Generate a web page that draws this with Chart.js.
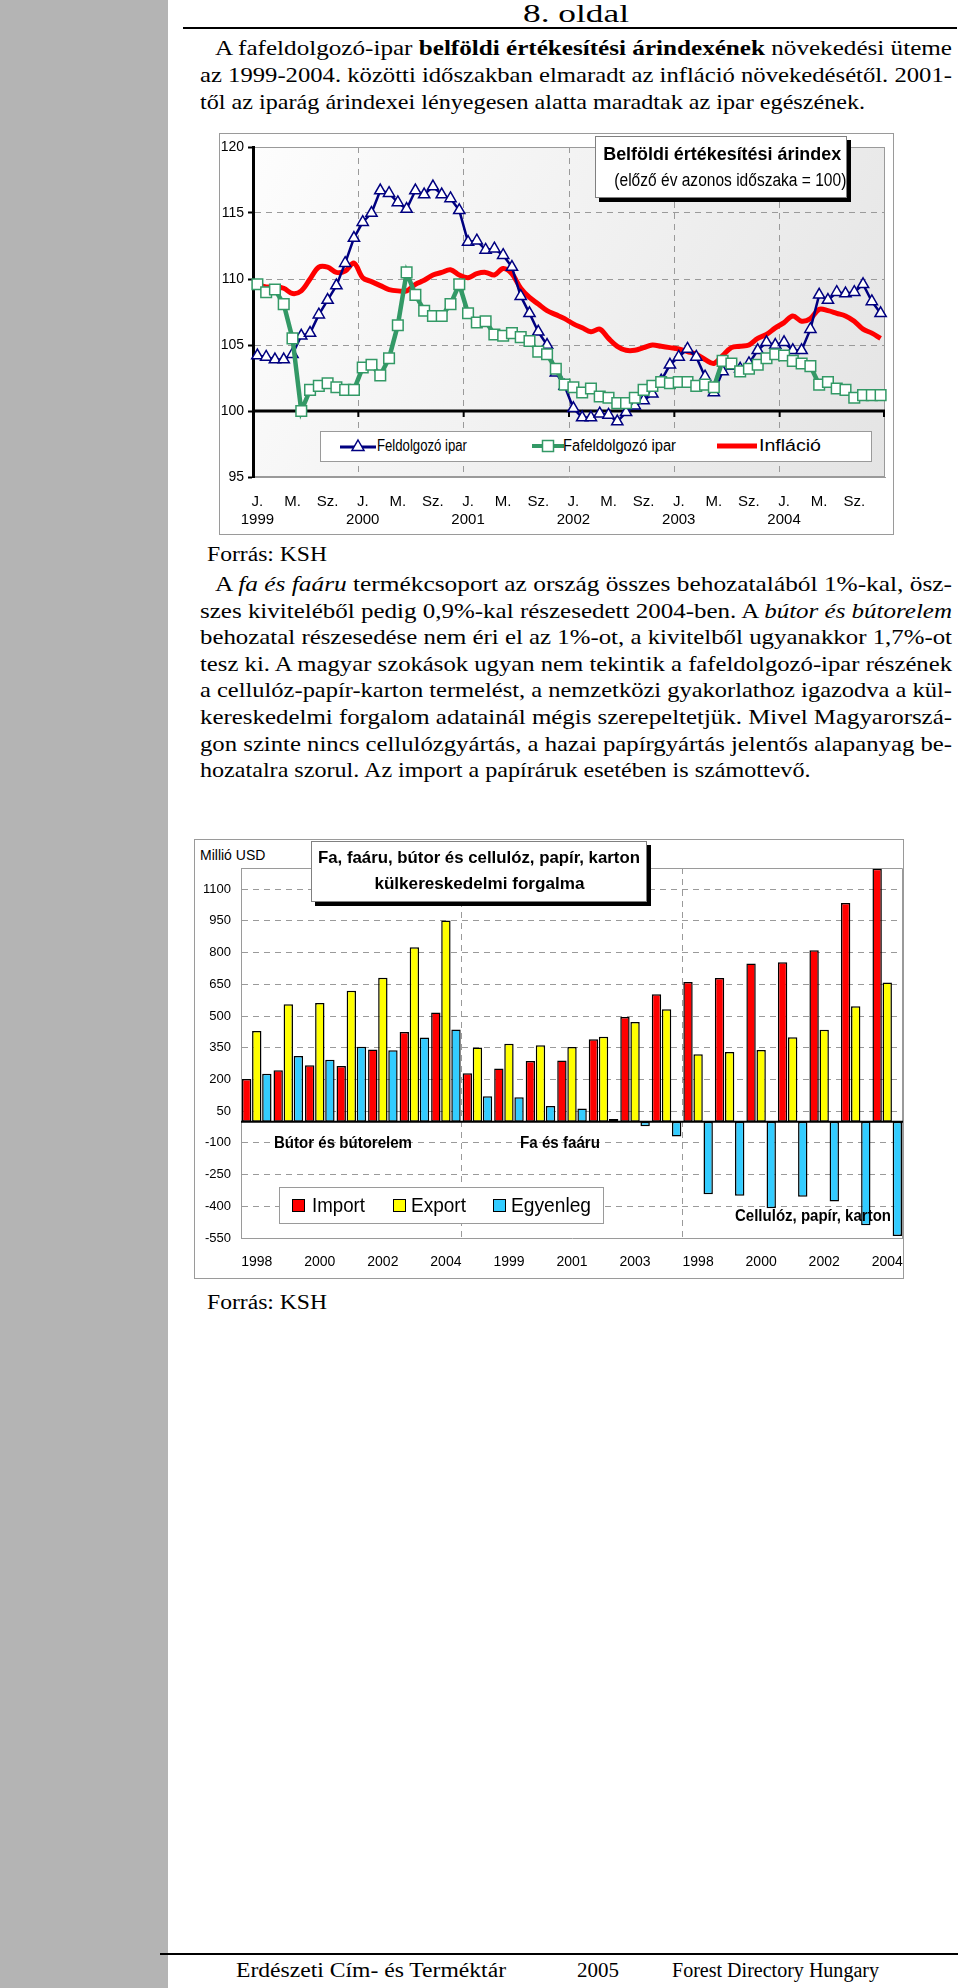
<!DOCTYPE html>
<html lang="hu">
<head>
<meta charset="utf-8">
<script src="https://cdn.jsdelivr.net/npm/chart.js@4.4.1/dist/chart.umd.min.js"></script>
<style>
  body { margin: 0; width: 960px; height: 1988px; position: relative; overflow: hidden; background: #fff; color: #000;
         font-family: "Liberation Serif", "Times New Roman", serif; }
  #sav { position: absolute; left: 0; top: 0; width: 168px; height: 1988px; background: #b4b4b4; }
  .vonal { position: absolute; height: 2px; background: #000; }
  .bekezdes { position: absolute; left: 200px; width: 752px; font-size: 22px; }
  .sor { white-space: nowrap; }
  .sor span { display: inline-block; transform-origin: left center; }
  .fit { display: inline-block; white-space: nowrap; transform-origin: left center; }
  .kozep { transform-origin: center center; }
  .abs { position: absolute; white-space: nowrap; }
  .keret { position: absolute; box-sizing: border-box; border: 1px solid #9a9a9a; background: #fff; }
  .keret canvas { position: absolute; left: -1px; top: -1px; }
  .sans { font-family: "Liberation Sans", Arial, sans-serif; }
  .cimdoboz { position: absolute; box-sizing: border-box; background: #fff; border: 1px solid #808080;
              box-shadow: 4px 4px 0 #000; text-align: center; font-family: "Liberation Sans", Arial, sans-serif; }
  .felirat { position: absolute; white-space: nowrap; font-weight: bold; font-size: 16px;
             font-family: "Liberation Sans", Arial, sans-serif; }
</style>
</head>
<body>
<div id="sav"></div>
<div class="abs" style="left:476px; width:200px; top:0px; text-align:center; font-size:26px; line-height:28px;">
  <span class="fit kozep" data-w="106">8. oldal</span>
</div>
<div class="vonal" style="left:183px; width:774px; top:27px;"></div>

<div class="bekezdes" style="top:34px; line-height:27px;">
  <div class="sor" data-behuz="15"><span>A fafeldolgozó-ipar <b>belföldi értékesítési árindexének</b> növekedési üteme</span></div>
  <div class="sor"><span>az 1999-2004. közötti időszakban elmaradt az infláció növekedésétől. 2001-</span></div>
  <div class="sor" data-utolso="1"><span>től az iparág árindexei lényegesen alatta maradtak az ipar egészének.</span></div>
</div>

<!-- 1. diagram -->
<div class="keret" style="left:219px; top:133px; width:675px; height:402px;">
  <canvas id="arindex" width="675" height="402"></canvas>
</div>
<div class="cimdoboz" style="left:595px; top:136px; width:252px; height:62px; padding-top:3px;">
  <div style="font-weight:bold; font-size:19px; line-height:27px;"><span class="fit kozep" data-w="238">Belföldi értékesítési árindex</span></div>
  <div style="font-size:18px; line-height:26px;"><span class="fit kozep" data-w="232">(előző év azonos időszaka = 100)</span></div>
</div>
<div class="keret sans" style="left:320px; top:431px; width:552px; height:31px; font-size:16px;">
  <svg style="position:absolute; left:19px; top:6px;" width="36" height="16">
    <line x1="0" y1="9" x2="36" y2="9" stroke="#000080" stroke-width="3"/>
    <polygon points="18,2 24,12.5 12,12.5" fill="#fff" stroke="#000080" stroke-width="1.5"/>
  </svg>
  <span class="abs" style="left:56px; top:5px;"><span class="fit" data-w="90">Feldolgozó ipar</span></span>
  <svg style="position:absolute; left:211px; top:6px;" width="32" height="16">
    <line x1="0" y1="8" x2="32" y2="8" stroke="#339966" stroke-width="4"/>
    <rect x="10.5" y="2.5" width="11" height="11" fill="#fff" stroke="#339966" stroke-width="1.5"/>
  </svg>
  <span class="abs" style="left:242px; top:5px;"><span class="fit" data-w="113">Fafeldolgozó ipar</span></span>
  <svg style="position:absolute; left:396px; top:6px;" width="40" height="16">
    <line x1="0" y1="8" x2="40" y2="8" stroke="#ff0000" stroke-width="5"/>
  </svg>
  <span class="abs" style="left:438px; top:5px;"><span class="fit" data-w="62">Infláció</span></span>
</div>
<div class="abs" style="left:207px; top:543px; font-size:20px;"><span class="fit" data-w="120">Forrás: KSH</span></div>

<div class="bekezdes" style="top:571px; line-height:26.6px;">
  <div class="sor" data-behuz="15"><span>A <i>fa és faáru</i> termékcsoport az ország összes behozatalából 1%-kal, ösz-</span></div>
  <div class="sor"><span>szes kiviteléből pedig 0,9%-kal részesedett 2004-ben. A <i>bútor és bútorelem</i></span></div>
  <div class="sor"><span>behozatal részesedése nem éri el az 1%-ot, a kivitelből ugyanakkor 1,7%-ot</span></div>
  <div class="sor"><span>tesz ki. A magyar szokások ugyan nem tekintik a fafeldolgozó-ipar részének</span></div>
  <div class="sor"><span>a cellulóz-papír-karton termelést, a nemzetközi gyakorlathoz igazodva a kül-</span></div>
  <div class="sor"><span>kereskedelmi forgalom adatainál mégis szerepeltetjük. Mivel Magyarorszá-</span></div>
  <div class="sor"><span>gon szinte nincs cellulózgyártás, a hazai papírgyártás jelentős alapanyag be-</span></div>
  <div class="sor" data-utolso="1"><span>hozatalra szorul. Az import a papíráruk esetében is számottevő.</span></div>
</div>

<!-- 2. diagram -->
<div class="keret" style="left:194px; top:839px; width:710px; height:440px;">
  <canvas id="kulker" width="710" height="440"></canvas>
</div>
<div class="sans" style="position:absolute; left:195px; top:842px; width:84px; height:26px; background:#fff;
            font-size:14px; line-height:26px; padding-left:5px; box-sizing:border-box;">Millió USD</div>
<div class="cimdoboz" style="left:311px; top:841px; width:336px; height:61px; padding-top:3px; font-weight:bold; font-size:17px; line-height:26px;">
  <span class="fit kozep" data-w="322">Fa, faáru, bútor és cellulóz, papír, karton</span><br>
  <span class="fit kozep" data-w="210">külkereskedelmi forgalma</span>
</div>
<div class="felirat" style="left:274px; top:1134px;"><span class="fit" data-w="138">Bútor és bútorelem</span></div>
<div class="felirat" style="left:520px; top:1134px;"><span class="fit" data-w="80">Fa és faáru</span></div>
<div class="felirat" style="left:735px; top:1207px;"><span class="fit" data-w="156">Cellulóz, papír, karton</span></div>
<div class="keret sans" style="left:279px; top:1187px; width:325px; height:37px; font-size:20px;">
  <div style="position:absolute; left:12px; top:11px; width:13px; height:13px; background:#ff0000; border:1.5px solid #000; box-sizing:border-box;"></div>
  <span class="abs" style="left:32px; top:6px;"><span class="fit" data-w="53">Import</span></span>
  <div style="position:absolute; left:113px; top:11px; width:13px; height:13px; background:#ffff00; border:1.5px solid #000; box-sizing:border-box;"></div>
  <span class="abs" style="left:131px; top:6px;"><span class="fit" data-w="55">Export</span></span>
  <div style="position:absolute; left:213px; top:11px; width:13px; height:13px; background:#33ccff; border:1.5px solid #000; box-sizing:border-box;"></div>
  <span class="abs" style="left:231px; top:6px;"><span class="fit" data-w="80">Egyenleg</span></span>
</div>
<div class="abs" style="left:207px; top:1291px; font-size:20px;"><span class="fit" data-w="120">Forrás: KSH</span></div>

<div class="vonal" style="left:160px; width:798px; top:1953px; height:1.5px;"></div>
<div class="abs" style="left:236px; top:1959px; font-size:20px;"><span class="fit" data-w="270">Erdészeti Cím- és Terméktár</span></div>
<div class="abs" style="left:577px; top:1959px; font-size:20px;"><span class="fit" data-w="42">2005</span></div>
<div class="abs" style="left:672px; top:1959px; font-size:20px;"><span class="fit" data-w="207">Forest Directory Hungary</span></div>

<script>
// ---- 1. diagram: belföldi értékesítési árindex, havi adatok 1999-2004 ----
const evek = ['1999', '2000', '2001', '2002', '2003', '2004'];
const honapJelek = ['J.', '', '', '', 'M.', '', '', '', 'Sz.', '', '', ''];

const feldolgozoIpar = [
  104.2, 104.1, 103.9, 103.9, 104.3, 105.7, 105.9, 107.3, 108.4, 109.5, 111.2, 113.1,
  114.3, 115.0, 116.7, 116.5, 115.8, 115.3, 116.7, 116.4, 117.0, 116.4, 116.1, 115.2,
  112.8, 112.9, 112.2, 112.3, 111.8, 110.9, 108.7, 107.4, 106.0, 105.0, 102.9, 101.9,
  100.2, 99.5, 99.5, 99.8, 99.7, 99.2, 99.9, 100.4, 100.8, 101.3, 102.3, 103.5,
  104.1, 104.7, 104.1, 102.6, 101.4, 103.0, 103.4, 103.2, 103.6, 104.6, 105.2, 105.0,
  105.2, 104.6, 104.6, 106.2, 108.8, 108.4, 109.0, 108.9, 109.0, 109.6, 108.3, 107.4
];
const fafeldolgozoIpar = [
  109.6, 109.0, 109.2, 108.1, 105.5, 100.0, 101.6, 101.9, 102.1, 101.8, 101.6, 101.6,
  103.3, 103.5, 102.7, 104.0, 106.5, 110.5, 108.8, 107.6, 107.2, 107.2, 108.1, 109.6,
  107.4, 106.7, 106.8, 105.8, 105.7, 105.9, 105.6, 105.3, 104.5, 104.3, 103.2, 102.0,
  101.8, 101.4, 101.7, 101.1, 101.0, 100.6, 100.6, 101.0, 101.6, 101.9, 102.2, 102.1,
  102.2, 102.2, 101.9, 102.0, 101.8, 103.8, 103.6, 103.0, 103.2, 103.5, 104.0, 104.3,
  104.2, 103.8, 103.6, 103.4, 102.0, 102.2, 101.7, 101.6, 101.0, 101.2, 101.2, 101.2
];
const inflacio = [
  109.6, 109.4, 109.4, 109.3, 108.9, 109.1, 110.0, 110.9, 110.9, 110.5, 110.6, 111.2,
  110.1, 109.8, 109.5, 109.2, 109.1, 109.1, 109.6, 109.9, 110.3, 110.5, 110.7, 110.3,
  110.1, 110.4, 110.5, 110.3, 110.8, 110.4, 109.3, 108.6, 108.1, 107.6, 107.3, 107.0,
  106.6, 106.3, 106.0, 106.2, 105.5, 104.9, 104.6, 104.6, 104.8, 105.0, 104.9, 104.8,
  104.7, 104.5, 104.3, 103.9, 103.6, 104.2, 104.8, 104.9, 105.0, 105.5, 105.8, 106.3,
  106.7, 107.2, 106.8, 107.0, 107.7, 107.6, 107.4, 107.2, 106.8, 106.2, 105.9, 105.5
];
const arindexTengely = [95, 100, 105, 110, 115, 120];

// ---- 2. diagram: külkereskedelmi forgalom, millió USD ----
const kkEvek = ['1998', '1999', '2000', '2001', '2002', '2003', '2004'];
const kkCsoportok = ['Bútor és bútorelem', 'Fa és faáru', 'Cellulóz, papír, karton'];
// sorrend: bútor 1998-2004, fa 1998-2004, cellulóz 1998-2004
const importErtek = [202, 244, 267, 263, 342, 424, 516,  229, 252, 287, 289, 390, 495, 603,  661, 680, 748, 754, 811, 1035, 1197];
const exportErtek = [429, 556, 561, 619, 681, 825, 952,  351, 369, 362, 353, 402, 472, 532,  319, 330, 339, 399, 435, 546, 658];
const egyenleg    = [227, 311, 293, 354, 338, 398, 436,  121, 116, 74, 63, 13, -22, -70,  -343, -350, -409, -355, -377, -490, -540];
const kkTengely = [-550, -400, -250, -100, 50, 200, 350, 500, 650, 800, 950, 1100];

const BETU = '"Liberation Sans", Arial, sans-serif';
const atlatszo = 'rgba(0,0,0,0)';

// feliratok szélességre igazítása
function illeszt() {
  document.querySelectorAll('[data-w]').forEach(el => {
    const w = el.getBoundingClientRect().width;
    if (w > 0) el.style.transform = 'scaleX(' + (Number(el.dataset.w) / w) + ')';
  });
}

// bekezdések sorkizárása soronként (teljes sorok kitöltik a szélességet)
function sorkizar() {
  document.querySelectorAll('.bekezdes').forEach(b => {
    const teljes = b.clientWidth;
    const sorok = [...b.querySelectorAll('.sor')];
    const arany = [];
    sorok.forEach(sor => {
      const span = sor.firstElementChild;
      const behuz = Number(sor.dataset.behuz || 0);
      span.style.marginLeft = behuz + 'px';
      if (sor.dataset.utolso) return;
      const k = (teljes - behuz) / span.getBoundingClientRect().width;
      arany.push(k);
      span.style.transform = 'scaleX(' + k + ')';
    });
    const atlag = arany.reduce((s, v) => s + v, 0) / arany.length;
    sorok.filter(s => s.dataset.utolso).forEach(sor => {
      sor.firstElementChild.style.transform = 'scaleX(' + (atlag * 0.97) + ')';
    });
  });
}

function rajzolArindex() {
  const cimkek = [];
  evek.forEach(ev => honapJelek.forEach((h, i) => cimkek.push([h, i === 0 ? ev : ''])));

  const hatter = {
    id: 'hatter',
    beforeDraw(chart) {
      const { ctx, chartArea: a } = chart;
      const g = ctx.createLinearGradient(a.left, a.top, a.right, a.bottom);
      g.addColorStop(0, '#fdfdfd');
      g.addColorStop(1, '#e4e4e4');
      ctx.save();
      ctx.fillStyle = g;
      ctx.fillRect(a.left, a.top, a.right - a.left, a.bottom - a.top);
      ctx.strokeStyle = '#9a9a9a';
      ctx.lineWidth = 1;
      ctx.strokeRect(a.left + 0.5, a.top + 0.5, a.right - a.left - 1, a.bottom - a.top - 1);
      ctx.restore();
    },
    beforeDatasetsDraw(chart) {
      // vastag tengely a 100-as szinten, évhatár jelekkel
      const { ctx, chartArea: a, scales: { x, y } } = chart;
      const y0 = y.getPixelForValue(100);
      ctx.save();
      ctx.strokeStyle = '#000';
      ctx.lineWidth = 3;
      ctx.beginPath();
      ctx.moveTo(a.left, y0);
      ctx.lineTo(a.right, y0);
      ctx.stroke();
      ctx.lineWidth = 2;
      for (let i = 12; i <= cimkek.length; i += 12) {
        const px = i < cimkek.length ? (x.getPixelForValue(i - 1) + x.getPixelForValue(i)) / 2 : a.right - 1;
        ctx.beginPath();
        ctx.moveTo(px, y0);
        ctx.lineTo(px, y0 + 6);
        ctx.stroke();
      }
      ctx.restore();
    }
  };

  new Chart(document.getElementById('arindex'), {
    type: 'line',
    data: {
      labels: cimkek,
      datasets: [
        {
          label: 'Feldolgozó ipar', data: feldolgozoIpar, order: 1,
          borderColor: '#000080', borderWidth: 2.5, tension: 0,
          pointStyle: 'triangle', pointRadius: 6.5, pointBorderWidth: 1.5,
          pointBackgroundColor: '#ffffff', pointBorderColor: '#000080'
        },
        {
          label: 'Fafeldolgozó ipar', data: fafeldolgozoIpar, order: 0,
          borderColor: '#339966', borderWidth: 4.5, tension: 0,
          pointStyle: 'rect', pointRadius: 7.5, pointBorderWidth: 1.5,
          pointBackgroundColor: '#ffffff', pointBorderColor: '#339966'
        },
        {
          label: 'Infláció', data: inflacio, order: 2,
          borderColor: '#ff0000', borderWidth: 5, tension: 0.35, pointRadius: 0
        }
      ]
    },
    options: {
      responsive: false, animation: false, devicePixelRatio: 1,
      layout: { padding: { left: 0, top: 14, right: 9, bottom: 0 } },
      plugins: { legend: { display: false }, tooltip: { enabled: false } },
      scales: {
        x: {
          offset: true,
          grid: {
            offset: true, drawTicks: false, lineWidth: 1,
            color: c => (c.index > 0 && c.index < cimkek.length && c.index % 12 === 0) ? '#9a9a9a' : atlatszo
          },
          border: { color: '#9a9a9a', width: 1, dash: [6, 5] },
          ticks: {
            autoSkip: false, maxRotation: 0, padding: 16, color: '#000',
            font: { family: BETU, size: 15, lineHeight: 1.2 }
          },
          afterFit: s => { s.height = 58; s.paddingLeft = 0; s.paddingRight = 0; }
        },
        y: {
          min: 95, max: 120,
          afterBuildTicks: s => { s.ticks = arindexTengely.map(v => ({ value: v })); },
          grid: {
            drawTicks: true, tickLength: 5, tickColor: '#000', tickWidth: 2,
            color: c => (c.tick && c.tick.value > 100 && c.tick.value < 120) ? '#9a9a9a' : atlatszo
          },
          border: { color: '#000', width: 3, dash: [6, 5] },
          ticks: { padding: 4, color: '#000', font: { family: BETU, size: 14 }, callback: v => String(v) },
          afterFit: s => { s.width = 34; }
        }
      }
    },
    plugins: [hatter]
  });
}

function rajzolKulker() {
  const cimkek = [];
  kkCsoportok.forEach(() => kkEvek.forEach(ev => cimkek.push(ev)));

  const keret = {
    id: 'keret',
    beforeDatasetsDraw(chart) {
      const { ctx, chartArea: a } = chart;
      ctx.save();
      ctx.strokeStyle = '#9a9a9a';
      ctx.lineWidth = 1;
      ctx.beginPath();
      ctx.moveTo(a.left, a.top + 0.5);
      ctx.lineTo(a.right - 0.5, a.top + 0.5);
      ctx.lineTo(a.right - 0.5, a.bottom);
      ctx.stroke();
      ctx.restore();
    },
    afterDatasetsDraw(chart) {
      const { ctx, chartArea: a, scales: { y } } = chart;
      const y0 = y.getPixelForValue(0);
      ctx.save();
      ctx.strokeStyle = '#000';
      ctx.lineWidth = 2;
      ctx.beginPath();
      ctx.moveTo(a.left, y0);
      ctx.lineTo(a.right, y0);
      ctx.stroke();
      ctx.restore();
    }
  };

  const oszlop = { borderColor: '#000', borderWidth: 1.5, borderSkipped: false, barPercentage: 0.93, categoryPercentage: 0.96 };

  new Chart(document.getElementById('kulker'), {
    type: 'bar',
    data: {
      labels: cimkek,
      datasets: [
        { label: 'Import', data: importErtek, backgroundColor: '#ff0000', ...oszlop },
        { label: 'Export', data: exportErtek, backgroundColor: '#ffff00', ...oszlop },
        { label: 'Egyenleg', data: egyenleg, backgroundColor: '#33ccff', ...oszlop }
      ]
    },
    options: {
      responsive: false, animation: false, devicePixelRatio: 1,
      layout: { padding: { left: 0, top: 29, right: 1, bottom: 0 } },
      plugins: { legend: { display: false }, tooltip: { enabled: false } },
      scales: {
        x: {
          grid: {
            offset: true, drawTicks: false,
            color: c => (c.index === kkEvek.length || c.index === 2 * kkEvek.length) ? '#9a9a9a' : atlatszo
          },
          border: { color: '#9a9a9a', width: 1, dash: [6, 5] },
          ticks: {
            autoSkip: false, maxRotation: 0, padding: 16, color: '#000',
            font: { family: BETU, size: 14 },
            callback: (v, i) => i % 2 === 0 ? cimkek[i] : ''
          },
          afterFit: s => { s.height = 41; s.paddingLeft = 0; s.paddingRight = 0; }
        },
        y: {
          min: -550, max: 1200,
          afterBuildTicks: s => { s.ticks = kkTengely.map(v => ({ value: v })); },
          grid: {
            drawTicks: false,
            color: c => (c.tick && c.tick.value > -550) ? '#9a9a9a' : atlatszo
          },
          border: { color: '#9a9a9a', width: 1, dash: [6, 5] },
          ticks: { padding: 10, color: '#000', font: { family: BETU, size: 13 }, callback: v => String(v) },
          afterFit: s => { s.width = 47; }
        }
      }
    },
    plugins: [keret]
  });
}

illeszt();
sorkizar();
rajzolArindex();
rajzolKulker();
</script>
</body>
</html>
